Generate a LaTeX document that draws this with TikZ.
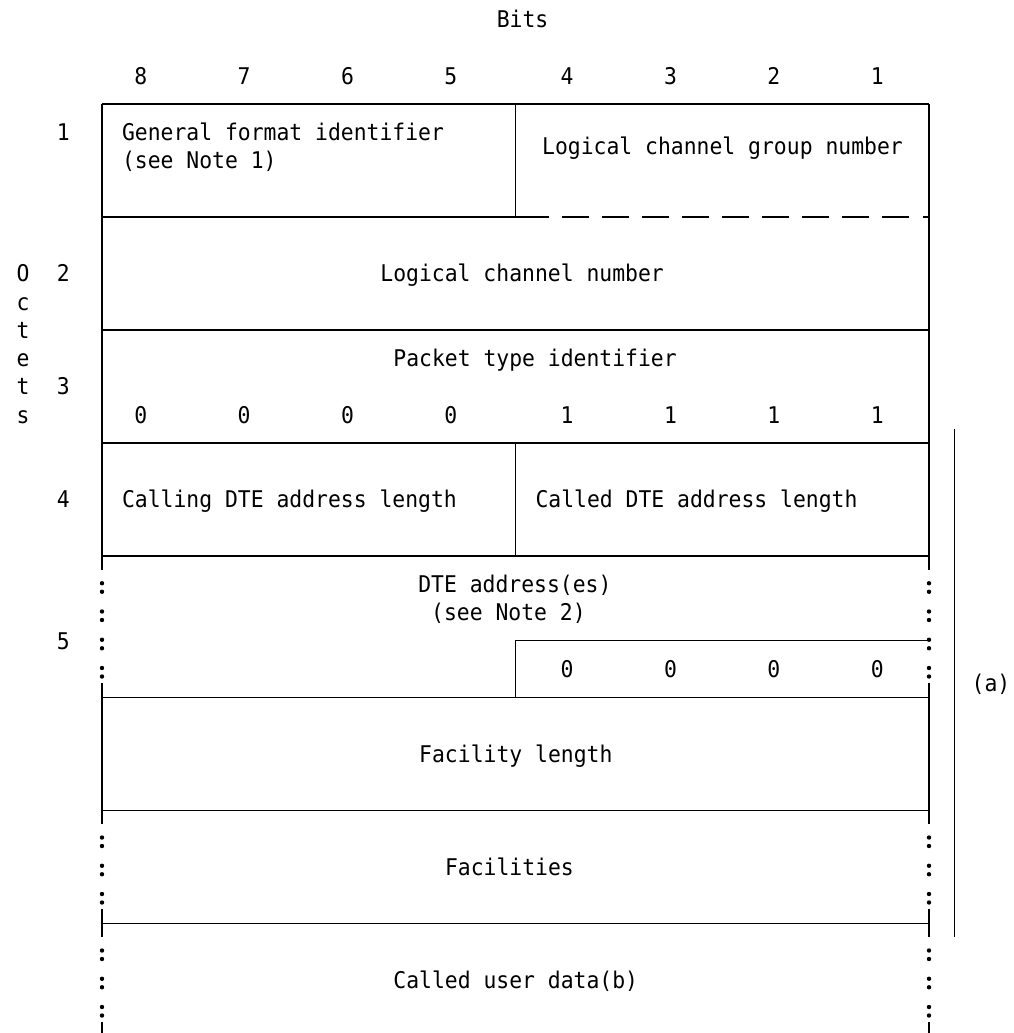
\documentclass[tikz,border=0pt]{standalone}
\usepackage{fontspec}
\newfontfamily\monof[FakeStretch=0.93]{DejaVu Sans Mono}
\begin{document}
\begin{tikzpicture}[x=1pt,y=-1pt,
  line width=1.4pt,
  txt/.style={inner sep=0pt, font=\monof\fontsize{23}{28}\selectfont, text height=16.8pt, text depth=0pt},
  lbl/.style={txt, anchor=west},
  dotc/.style={fill=black}]
\def\gy#1{(104+(#1)*28.25)}
\def\gx#1{(102+(#1)*12.92)}
\useasboundingbox (0,0) rectangle (1014,1033);
% header
\node[lbl] (bits) at ({\gx{30.5}},{\gy{-3}}) {Bits};
\foreach \c/\t [count=\i] in {3/8,11/7,19/6,27/5,36/4,44/3,52/2,60/1}
  \node[txt] (bit\i) at ({\gx{\c}},{\gy{-1}}) {\t};
% octet labels
\foreach \m/\t [count=\i] in {6/O,7/c,8/t,9/e,10/t,11/s}
  \node[txt] (oct\i) at (23,{\gy{\m}}) {\t};
\foreach \m/\t in {1/1,6/2,10/3,14/4,19/5}
  \node[txt] (num\t) at ({\gx{-3}},{\gy{\m}}) {\t};
% texts
\node[lbl] (gfi) at ({\gx{1.5}},{\gy{1}}) {General format identifier};
\node[lbl] (note1) at ({\gx{1.5}},{\gy{2}}) {(see Note 1)};
\node[txt] (lcgn) at (722.5,{\gy{1.5}}) {Logical channel group number};
\node[lbl] (lcn) at ({\gx{21.5}},{\gy{6}}) {Logical channel number};
\node[lbl] (pti) at ({\gx{22.5}},{\gy{9}}) {Packet type identifier};
\foreach \c/\t [count=\i] in {3/0,11/0,19/0,27/0,36/1,44/1,52/1,60/1}
  \node[txt] (pt\i) at ({\gx{\c}},{\gy{11}}) {\t};
\node[lbl] (calling) at ({\gx{1.5}},{\gy{14}}) {Calling DTE address length};
\node[lbl] (called) at ({\gx{33.5}},{\gy{14}}) {Called DTE address length};
\node[lbl] (dte) at (417.6,{\gy{17}}) {DTE address(es)};
\node[lbl] (note2) at (430.5,{\gy{18}}) {(see Note 2)};
\foreach \c [count=\i] in {36,44,52,60}
  \node[txt] (z\i) at ({\gx{\c}},{\gy{20}}) {0};
\node[lbl] (fl) at ({\gx{24.5}},{\gy{23}}) {Facility length};
\node[lbl] (fac) at ({\gx{26.5}},{\gy{27}}) {Facilities};
\node[lbl] (cud) at ({\gx{22.5}},{\gy{31}}) {Called user data(b)};
\node[txt] (a) at (991,{\gy{20.5}}) {(a)};
% horizontal lines
\foreach \m in {0,8,12,16,21,25,29}
  \draw (102,{\gy{\m}}) -- (929,{\gy{\m}});
\draw (515.4,{\gy{19}}) -- (929,{\gy{19}});
\draw (102,{\gy{4}}) -- (549,{\gy{4}});
\foreach \k in {0,...,8}
  \draw ({562+40*\k},{\gy{4}}) -- ++(27,0);
\draw (923,{\gy{4}}) -- (929,{\gy{4}});
% side edges
\foreach \x in {102,929}{
  \draw (\x,104) -- (\x,{\gy{16.5}});
  \draw (\x,{\gy{20.5}}) -- (\x,{\gy{25.5}});
  \draw (\x,{\gy{28.5}}) -- (\x,{\gy{29.5}});
  \draw (\x,{\gy{32.5}}) -- (\x,1033);
  \foreach \m in {17,18,19,20,26,27,28,30,31,32}{
    \fill (\x,{\gy{\m}-1}) circle (2.2);
    \fill (\x,{\gy{\m}+7.5}) circle (2.2);
  }
}
% middle lines
\draw (515.4,{\gy{0}}) -- (515.4,{\gy{4}});
\draw (515.4,{\gy{12}}) -- (515.4,{\gy{16}});
\draw (515.4,{\gy{19}}) -- (515.4,{\gy{21}});
% bracket for (a)
\draw ({\gx{66}},{\gy{11.5}}) -- ({\gx{66}},{\gy{29.5}});
\end{tikzpicture}
\end{document}
